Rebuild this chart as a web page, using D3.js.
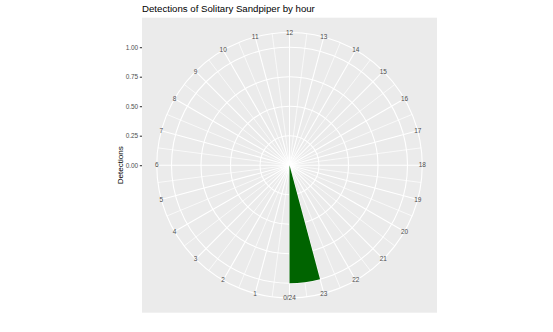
<!DOCTYPE html>
<html>
<head>
<meta charset="utf-8">
<script src="https://cdn.jsdelivr.net/npm/d3@7"></script>
<style>
  body { margin: 0; background: #fff; }
  svg { display: block; font-family: "Liberation Sans", Arial, sans-serif; }
</style>
</head>
<body>
<svg id="chart" width="553" height="332"></svg>
<script>
// data
var hours = [23];
var detections = [1];
var barWidth = 1;

var hourBreaks = [0, 1, 2, 3, 4, 5, 6, 7, 8, 9, 10, 11, 12, 13, 14, 15, 16, 17, 18, 19, 20, 21, 22, 23];
var hourLabels = ["0/24", "1", "2", "3", "4", "5", "6", "7", "8", "9", "10", "11", "12",
                  "13", "14", "15", "16", "17", "18", "19", "20", "21", "22", "23"];
var yTicks = [0, 0.25, 0.5, 0.75, 1];
var yTickLabels = ["0.00", "0.25", "0.50", "0.75", "1.00"];

var svg = d3.select("#chart");

// panel (square, coord_polar)
var panel = { left: 142, top: 17.7, size: 295 };
var cx = panel.left + panel.size / 2;
var cy = panel.top + panel.size / 2;

// theta: clockwise, 0 at the bottom
var theta = d3.scaleLinear().domain([0, 24]).range([Math.PI, 3 * Math.PI]);
var r = d3.scaleLinear().domain([0, 1]).range([0, 0.4 * panel.size]);
var outerR = 0.45 * panel.size;

svg.append("rect")
    .attr("x", panel.left).attr("y", panel.top)
    .attr("width", panel.size).attr("height", panel.size)
    .attr("fill", "#EBEBEB");

var g = svg.append("g").attr("transform", "translate(" + cx + "," + cy + ")");

// minor spokes (half hours)
var minorBreaks = hourBreaks.map(function(h) { return h + 0.5; });
g.selectAll("line.minor")
    .data(minorBreaks)
    .enter().append("line")
    .attr("class", "minor")
    .attr("x1", 0).attr("y1", 0)
    .attr("x2", function(d) { return outerR * Math.sin(theta(d)); })
    .attr("y2", function(d) { return -outerR * Math.cos(theta(d)); })
    .style("stroke", "white").style("stroke-width", 0.7);

// major spokes
g.selectAll("line.major")
    .data(hourBreaks)
    .enter().append("line")
    .attr("class", "major")
    .attr("x1", 0).attr("y1", 0)
    .attr("x2", function(d) { return outerR * Math.sin(theta(d)); })
    .attr("y2", function(d) { return -outerR * Math.cos(theta(d)); })
    .style("stroke", "white").style("stroke-width", 1.1);

// circles
g.selectAll("circle.grid")
    .data(yTicks.filter(function(d) { return d > 0; }).map(r).concat([outerR]))
    .enter().append("circle")
    .attr("class", "grid")
    .attr("r", function(d) { return d; })
    .style("fill", "none").style("stroke", "white").style("stroke-width", 1.1);

// bars
var arc = d3.arc();
g.selectAll("path.bar")
    .data(hours.map(function(h, i) { return { h: h, v: detections[i] }; }))
    .enter().append("path")
    .attr("class", "bar")
    .attr("d", function(d) {
        return arc({
            innerRadius: 0,
            outerRadius: r(d.v),
            startAngle: theta(d.h),
            endAngle: theta(d.h + barWidth)
        });
    })
    .style("fill", "#006400");

// hour labels
g.selectAll("text.hour")
    .data(hourBreaks)
    .enter().append("text")
    .attr("class", "hour")
    .attr("x", function(d) { return outerR * Math.sin(theta(d)); })
    .attr("y", function(d) { return -outerR * Math.cos(theta(d)); })
    .attr("dy", "0.35em")
    .attr("text-anchor", "middle")
    .style("font-size", "6.45px")
    .style("fill", "#4D4D4D")
    .text(function(d, i) { return hourLabels[i]; });

// radial axis on the left
var yAxisScale = d3.scaleLinear().domain([0, 1]).range([cy, cy - r(1)]);
var yAxis = svg.append("g")
    .attr("transform", "translate(" + panel.left + ",0)")
    .call(d3.axisLeft(yAxisScale).tickValues(yTicks)
        .tickFormat(function(d, i) { return yTickLabels[i]; })
        .tickSize(2.2).tickPadding(1.6));
yAxis.select(".domain").remove();
yAxis.selectAll(".tick line").style("stroke", "#333333").style("stroke-width", 1.05);
yAxis.selectAll(".tick text")
    .style("font-size", "6.45px")
    .style("fill", "#4D4D4D")
    .style("font-family", "'Liberation Sans', Arial, sans-serif");

svg.append("text")
    .attr("transform", "translate(123," + cy + ") rotate(-90)")
    .attr("text-anchor", "middle")
    .style("font-size", "8.1px")
    .style("fill", "black")
    .text("Detections");

svg.append("text")
    .attr("x", panel.left).attr("y", 12.3)
    .style("font-size", "9.67px")
    .style("fill", "black")
    .text("Detections of Solitary Sandpiper by hour");
</script>
</body>
</html>
